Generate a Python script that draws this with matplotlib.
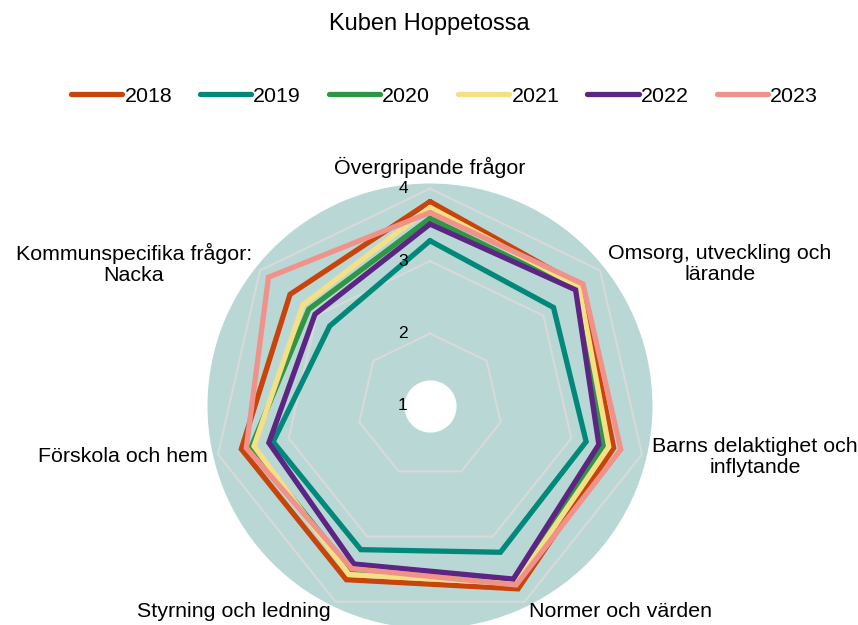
import numpy as np
import matplotlib
matplotlib.use("Agg")
import matplotlib.pyplot as plt
from matplotlib.transforms import offset_copy

plt.rcParams['font.family'] = ['Liberation Sans', 'DejaVu Sans']

categories = ["Övergripande frågor", "Omsorg, utveckling och\nlärande",
              "Barns delaktighet och\ninflytande", "Normer och värden",
              "Styrning och ledning", "Förskola och hem",
              "Kommunspecifika frågor:\nNacka"]
years = ["2018", "2019", "2020", "2021", "2022", "2023"]

v2018 = [3.82, 3.66, 3.60, 3.80, 3.66, 3.67, 3.47]
v2019 = [3.28, 3.18, 3.21, 3.24, 3.20, 3.22, 2.77]
v2020 = [3.59, 3.58, 3.46, 3.68, 3.52, 3.53, 3.14]
v2021 = [3.74, 3.63, 3.53, 3.72, 3.58, 3.49, 3.24]
v2022 = [3.51, 3.57, 3.39, 3.65, 3.42, 3.28, 3.03]
v2023 = [3.67, 3.70, 3.70, 3.74, 3.49, 3.60, 3.85]
series = [v2018, v2019, v2020, v2021, v2022, v2023]

colors = ["#c9440a", "#00897b", "#2e9645", "#f5e085", "#5c2483", "#f0928a"]
r_ticks = [1, 2, 3, 4]

r_min, r_max = 1.0, 4.07
n = len(categories)
theta = np.linspace(0, 2 * np.pi, n, endpoint=False)
theta_c = np.append(theta, theta[0])

fig = plt.figure(figsize=(8.58, 6.25), dpi=100)
ax = fig.add_axes([0.2418, -0.0056, 0.5187, 0.712], projection='polar')
ax.set_theta_zero_location('N')
ax.set_theta_direction(-1)
ax.set_ylim(r_min, r_max)
ax.set_facecolor('#b9d8d5')
ax.spines['polar'].set_visible(False)
ax.grid(False)
ax.set_xticks([])
ax.set_yticks([])

# heptagon grid
for r in r_ticks[1:]:
    ax.plot(theta_c, [r] * (n + 1), color='#d9d9d9', lw=1.5, zorder=1)

# white hole in the middle
tt = np.linspace(0, 2 * np.pi, 200)
ax.fill_between(tt, r_min, 1.36, color='white', lw=0, zorder=2)

for vals, col, lab in zip(series, colors, years):
    ax.plot(theta_c, vals + vals[:1], color=col, lw=3.8, label=lab, zorder=3,
            solid_capstyle='round', solid_joinstyle='miter')

# radial labels, left of the top spoke
tr = offset_copy(ax.transData, fig=fig, x=-27, y=0, units='dots')
for r in r_ticks:
    ax.text(0, r, str(r), transform=tr, ha='center', va='center',
            fontsize=12.5, zorder=5)

# category labels
r_lab = 4.145
for ang, lab in zip(theta, categories):
    s = np.sin(ang)
    if abs(s) < 1e-6:
        ha, va = 'center', 'bottom'
    elif s > 0:
        ha, va = 'left', 'center'
    else:
        ha, va = 'right', 'center'
    ax.text(ang, r_lab, lab, ha=ha, va=va, multialignment='center',
            fontsize=15.4, linespacing=1.15, clip_on=False)

fig.text(0.5, 0.962, "Kuben Hoppetossa", ha='center', va='center', fontsize=17)
fig.legend(loc='center', bbox_to_anchor=(0.518, 0.846), ncol=6, frameon=False,
           fontsize=15.4, handlelength=2.4, handletextpad=0.1,
           columnspacing=1.3)

fig.savefig("out.png", dpi=100)
